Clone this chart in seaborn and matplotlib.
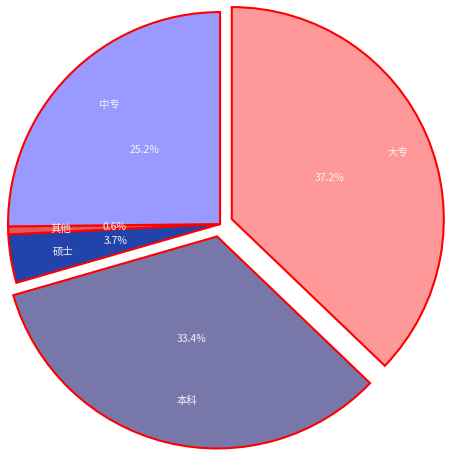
import seaborn as sns
import matplotlib
import matplotlib.pyplot as plt

sns.set_style("white")
plt.rcParams['font.family'] = ['Noto Sans CJK SC', 'DejaVu Sans']

# education level share
labels = ['大专', '本科', '硕士', '其他', '中专']
shares = [37.2, 33.4, 3.7, 0.6, 25.2]
explode = [0.06, 0.06, 0, 0, 0]
colors = ['#ff9999', '#7777aa', '#2244aa', '#e05a5a', '#9999ff']

fig = plt.figure(figsize=(4.55, 4.59), dpi=100)
ax = fig.add_axes([0, 0, 1, 1])

wedges, texts, autotexts = ax.pie(
    shares, labels=labels, explode=explode, colors=colors,
    startangle=90, counterclock=False, autopct='%1.1f%%',
    labeldistance=0.8, pctdistance=0.5,
    wedgeprops={'edgecolor': 'red', 'linewidth': 1.5},
    textprops={'color': '#f4f4f4', 'fontsize': 7.5},
)
for t in texts:
    t.set_horizontalalignment('left')

# place the pie the same way as the reference
ax.set_xlim(-1.038, 1.108)
ax.set_ylim(-1.108, 1.057)
ax.set_aspect('auto')
ax.axis('off')

plt.savefig('out.png', dpi=100)
